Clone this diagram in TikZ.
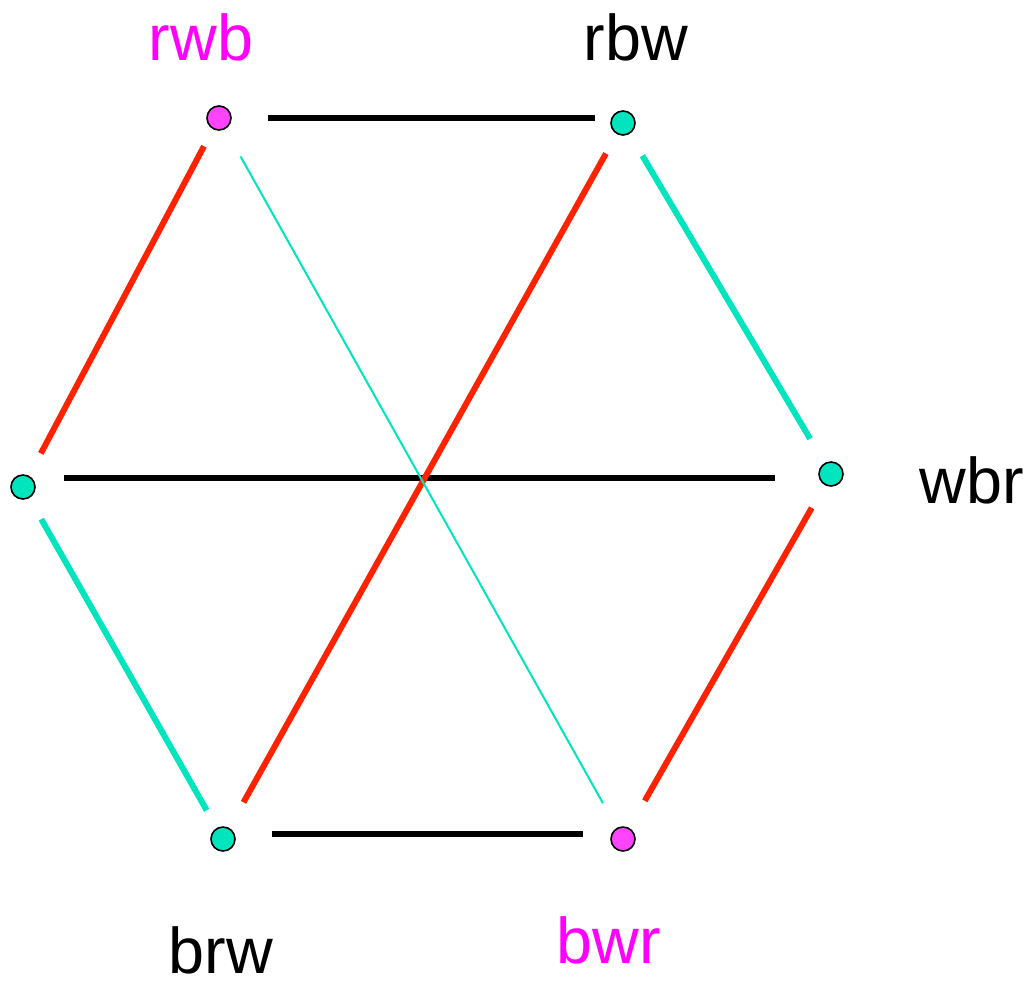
\documentclass[tikz,border=0pt]{standalone}
\usepackage{fontspec}
\setmainfont{Liberation Sans}
\usepackage{xcolor}
\definecolor{hexred}{HTML}{FF2200}
\definecolor{mint}{HTML}{00E5BE}
\definecolor{pinkdot}{HTML}{FF44FF}
\definecolor{pinktxt}{HTML}{FF00FF}
\newdimen\px \px=0.025cm
\tikzset{
  dot/.style={circle,draw=black,line width=1.6\px,fill=#1,
              minimum size=24\px,inner sep=0pt},
  lbl/.style={anchor=base,inner sep=0pt,
              font=\fontsize{46}{55}\selectfont,text=#1},
  bond/.style={line width=6\px,draw=#1},
  hair/.style={line width=2\px,draw=mint},
}

\begin{document}
\begin{tikzpicture}[x=0.025cm,y=-0.025cm]
  \useasboundingbox (0,0) rectangle (1029,982);

  % permutation vertices
  \node[dot=pinkdot] (rwb) at (219,118) {};
  \node[dot=mint]    (rbw) at (623,123) {};
  \node[dot=mint]    (lft) at (23,487)  {};
  \node[dot=mint]    (wbr) at (831,474) {};
  \node[dot=mint]    (brw) at (223,839) {};
  \node[dot=pinkdot] (bwr) at (623,839) {};

  \node[lbl=pinktxt] (rwbtxt) at (201,60)  {rwb};
  \node[lbl=black]   (rbwtxt) at (636,60)  {rbw};
  \node[lbl=black]   (wbrtxt) at (972,503) {wbr};
  \node[lbl=black]   (brwtxt) at (221,973) {brw};
  \node[lbl=pinktxt] (bwrtxt) at (609,963) {bwr};

  % level edges (black), kept horizontal
  \foreach \a/\b/\u/\v/\s/\t in {rwb/rbw/0/5/49/28, lft/wbr/9/-4/41/56,
                                 brw/bwr/5/5/49/40}
    \draw[bond=black,shorten <=\s\px,shorten >=\t\px]
      ([yshift=\u\px]\a.center) -- ([yshift=\v\px]\b.center);

  % slanted edges, with gaps kept clear round each vertex
  \foreach \a/\b/\c/\s/\t in {rwb/lft/hexred/32/38, rbw/brw/hexred/35/42,
                              wbr/bwr/hexred/39/44, rbw/wbr/mint/38/41,
                              lft/brw/mint/37/33}
    \draw[bond=\c,shorten <=\s\px,shorten >=\t\px] (\a.center) -- (\b.center);
  \draw[hair,shorten <=44\px,shorten >=41\px] (rwb.center) -- (bwr.center);
\end{tikzpicture}
\end{document}
